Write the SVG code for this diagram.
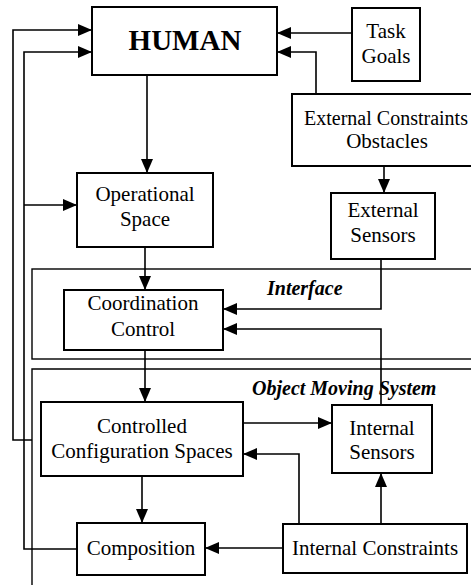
<svg xmlns="http://www.w3.org/2000/svg" width="471" height="585" viewBox="0 0 471 585">
<style>
.bg{fill:#fff}
.box{fill:#fff;stroke:#000;stroke-width:2}
.region{fill:none;stroke:#000;stroke-width:1.4}
.t{font-family:"Liberation Serif","Times New Roman",serif;font-size:21px;fill:#000;text-anchor:middle}
.h{font-family:"Liberation Serif","Times New Roman",serif;font-size:29px;font-weight:bold;fill:#000;text-anchor:middle}
.lbl{font-family:"Liberation Serif","Times New Roman",serif;font-size:20px;font-weight:bold;font-style:italic;fill:#000}
.c{fill:none;stroke:#000;stroke-width:1.6}
</style>
<defs>
<marker id="ah" markerUnits="userSpaceOnUse" markerWidth="14" markerHeight="12" refX="13" refY="6" orient="auto">
<path d="M0,0 L14,6 L0,12 z" fill="#000"/>
</marker>
</defs>
<rect class="bg" width="471" height="585"/>
<g id="regions">
<rect id="interface-region" class="region" x="32" y="269" width="460" height="90"/>
<path id="oms-region" class="region" d="M32,590 V369 H480"/>
<text class="lbl" x="267" y="295">Interface</text>
<text class="lbl" x="252" y="395">Object Moving System</text>
</g>
<g id="connectors">
<path class="c" d="M147,75 V172" marker-end="url(#ah)"/>
<path class="c" d="M145,247 V289" marker-end="url(#ah)"/>
<path class="c" d="M145,350 V401" marker-end="url(#ah)"/>
<path class="c" d="M142,476 V522" marker-end="url(#ah)"/>
<path class="c" d="M352,33 H278" marker-end="url(#ah)"/>
<path class="c" d="M316,94 V52 H278" marker-end="url(#ah)"/>
<path class="c" d="M384,166 V192" marker-end="url(#ah)"/>
<path class="c" d="M381,259 V309 H224" marker-end="url(#ah)"/>
<path class="c" d="M381,405 V329 H224" marker-end="url(#ah)"/>
<path class="c" d="M243,423 H331" marker-end="url(#ah)"/>
<path class="c" d="M299,523 V454 H244" marker-end="url(#ah)"/>
<path class="c" d="M381,524 V474" marker-end="url(#ah)"/>
<path class="c" d="M283,548 H206" marker-end="url(#ah)"/>
<path class="c" d="M32,440 H13 V30 H91" marker-end="url(#ah)"/>
<path class="c" d="M77,549 H24 V52 H91" marker-end="url(#ah)"/>
<path class="c" d="M24,205 H76" marker-end="url(#ah)"/>
</g>
<g id="human">
<rect class="box" x="92" y="7" width="185" height="68"/>
<text class="h" x="185" y="50">HUMAN</text>
</g>
<g id="task-goals">
<rect class="box" x="352" y="8" width="68" height="73"/>
<text class="t" x="386" y="38">Task</text>
<text class="t" x="386" y="63">Goals</text>
</g>
<g id="external-constraints">
<rect class="box" x="292" y="94" width="190" height="72"/>
<text class="t" x="386" y="125" style="font-size:20px">External Constraints</text>
<text class="t" x="387" y="148">Obstacles</text>
</g>
<g id="operational-space">
<rect class="box" x="77" y="173" width="136" height="74"/>
<text class="t" x="145" y="201">Operational</text>
<text class="t" x="145" y="226">Space</text>
</g>
<g id="external-sensors">
<rect class="box" x="331" y="193" width="104" height="66"/>
<text class="t" x="383" y="217">External</text>
<text class="t" x="383" y="242">Sensors</text>
</g>
<g id="coordination-control">
<rect class="box" x="64" y="290" width="159" height="60"/>
<text class="t" x="143" y="310">Coordination</text>
<text class="t" x="143" y="336">Control</text>
</g>
<g id="controlled-configuration-spaces">
<rect class="box" x="41" y="402" width="202" height="74"/>
<text class="t" x="142" y="433">Controlled</text>
<text class="t" x="142" y="458">Configuration Spaces</text>
</g>
<g id="internal-sensors">
<rect class="box" x="332" y="405" width="100" height="68"/>
<text class="t" x="382" y="435">Internal</text>
<text class="t" x="382" y="459">Sensors</text>
</g>
<g id="composition">
<rect class="box" x="77" y="523" width="128" height="52"/>
<text class="t" x="141" y="555">Composition</text>
</g>
<g id="internal-constraints">
<rect class="box" x="283" y="524" width="184" height="49"/>
<text class="t" x="375" y="555">Internal Constraints</text>
</g>
</svg>
